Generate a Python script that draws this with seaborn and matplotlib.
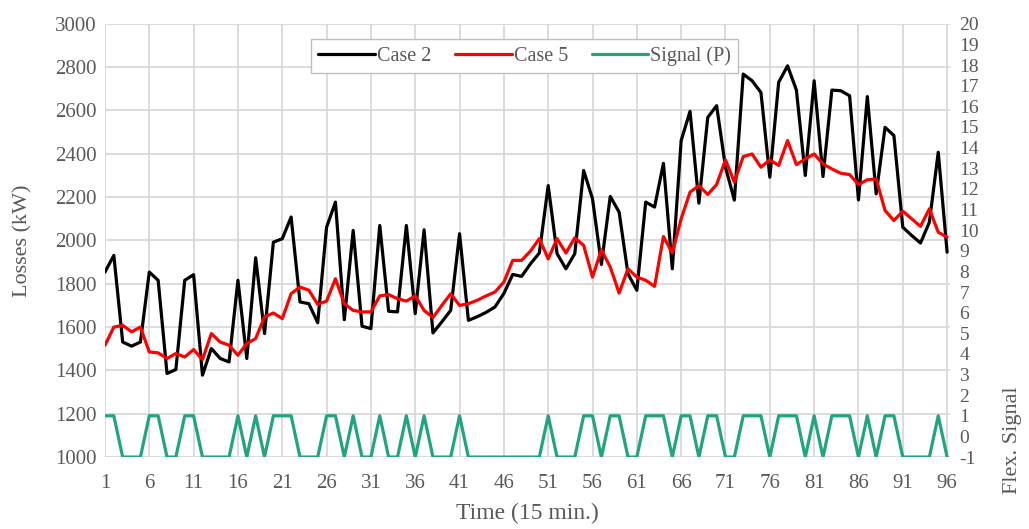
import numpy as np
import pandas as pd
import matplotlib
matplotlib.use("Agg")
import matplotlib.pyplot as plt
import seaborn as sns

sns.set_style("whitegrid")
plt.rcParams['font.family'] = ['Liberation Serif', 'DejaVu Serif']
plt.rcParams['axes.unicode_minus'] = False

# time steps (15 min.)
time = list(range(1, 97))

case2 = [1854, 1931, 1531, 1512, 1531, 1854, 1816, 1386, 1404, 1816,
         1842, 1378, 1501, 1455, 1439, 1816, 1455, 1920, 1570, 1992,
         2008, 2108, 1716, 1708, 1620, 2061, 2177, 1634, 2046, 1604,
         1593, 2069, 1673, 1670, 2069, 1662, 2049, 1573, 1624, 1677,
         2031, 1631, 1648, 1668, 1693, 1755, 1843, 1834, 1892, 1942,
         2253, 1939, 1869, 1939, 2323, 2192, 1889, 2203, 2131, 1846,
         1770, 2177, 2154, 2356, 1869, 2461, 2596, 2172, 2568, 2622,
         2338, 2186, 2768, 2737, 2683, 2292, 2730, 2806, 2694, 2300,
         2737, 2295, 2694, 2691, 2668, 2187, 2664, 2215, 2522, 2484,
         2061, 2023, 1988, 2084, 2407, 1946]

case5 = [1516, 1600, 1608, 1578, 1600, 1485, 1481, 1455, 1478, 1462,
         1496, 1450, 1570, 1531, 1516, 1470, 1524, 1547, 1647, 1665,
         1639, 1754, 1785, 1770, 1705, 1720, 1823, 1708, 1677, 1670,
         1670, 1744, 1750, 1731, 1720, 1744, 1677, 1644, 1700, 1754,
         1700, 1708, 1724, 1744, 1762, 1808, 1908, 1908, 1951, 2008,
         1915, 2008, 1942, 2012, 1977, 1831, 1957, 1877, 1757, 1869,
         1831, 1816, 1788, 2018, 1942, 2100, 2223, 2253, 2212, 2258,
         2372, 2269, 2387, 2399, 2338, 2372, 2346, 2461, 2350, 2376,
         2399, 2353, 2330, 2310, 2304, 2258, 2280, 2284, 2138, 2092,
         2135, 2100, 2065, 2146, 2038, 2015]

signal = [1, 1, -1, -1, -1, 1, 1, -1, -1, 1,
          1, -1, -1, -1, -1, 1, -1, 1, -1, 1,
          1, 1, -1, -1, -1, 1, 1, -1, 1, -1,
          -1, 1, -1, -1, 1, -1, 1, -1, -1, -1,
          1, -1, -1, -1, -1, -1, -1, -1, -1, -1,
          1, -1, -1, -1, 1, 1, -1, 1, 1, -1,
          -1, 1, 1, 1, -1, 1, 1, -1, 1, 1,
          -1, -1, 1, 1, 1, -1, 1, 1, 1, -1,
          1, -1, 1, 1, 1, -1, 1, -1, 1, 1,
          -1, -1, -1, -1, 1, -1]

xticks = list(range(1, 97, 5))

df = pd.DataFrame({'time': time, 'Case 2': case2, 'Case 5': case5, 'Signal (P)': signal})

grey = '#595959'
grid_c = '#d9d9d9'
green = '#21a47f'

fig = plt.figure(figsize=(10.29, 5.29), dpi=100)
ax = fig.add_axes([0.102, 0.136, 0.821, 0.819])
ax2 = ax.twinx()

sns.lineplot(data=df, x='time', y='Case 2', ax=ax, color='black', lw=2.3, label='Case 2', legend=False)
sns.lineplot(data=df, x='time', y='Case 5', ax=ax, color='red', lw=2.3, label='Case 5', legend=False)
sns.lineplot(data=df, x='time', y='Signal (P)', ax=ax2, color=green, lw=2.3, label='Signal (P)', legend=False)

ax.set_xlim(1, 96.3)
ax.set_ylim(1000, 3000)
ax.set_yticks(range(1000, 3001, 200))
ax.set_xticks(xticks)
ax2.set_ylim(-1, 20)
ax2.set_yticks(range(-1, 21))
ax2.grid(False)

ax.grid(True, color=grid_c, lw=1.3)
for a in (ax, ax2):
    for s in a.spines.values():
        s.set_visible(False)
    a.tick_params(length=0, colors=grey, labelsize=15)
ax.tick_params(axis='x', pad=12)
ax.tick_params(axis='y', pad=6)
ax2.tick_params(axis='y', pad=7, labelsize=14)

ax.set_xlabel('Time (15 min.)', fontsize=17, color=grey, labelpad=7)
ax.set_ylabel('Losses (kW)', fontsize=16, color=grey, labelpad=16)
ax2.set_ylabel('')
fig.text(0.984, 0.168, 'Flex. Signal', rotation=90, fontsize=16, color=grey,
         ha='center', va='center')

h1, l1 = ax.get_legend_handles_labels()
h2, l2 = ax2.get_legend_handles_labels()
leg = ax2.legend(h1 + h2, l1 + l2, loc='upper center', bbox_to_anchor=(0.497, 0.988),
                 ncol=3, fontsize=14.5, frameon=True, fancybox=False, framealpha=1,
                 edgecolor='#bfbfbf', handlelength=2.8, columnspacing=1.2,
                 handletextpad=0.1, borderpad=0.35)
for t in leg.get_texts():
    t.set_color(grey)

fig.savefig('out.png', dpi=100)
